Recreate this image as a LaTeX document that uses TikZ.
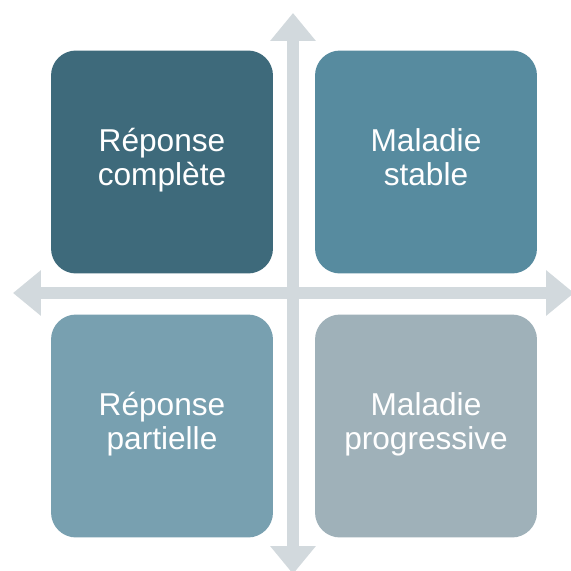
\documentclass[tikz,border=0pt]{standalone}
\usepackage{fontspec}
\setmainfont{Liberation Sans}
\usetikzlibrary{arrows.meta,positioning}
\definecolor{axisgray}{HTML}{D2D9DD}
\definecolor{qa}{HTML}{3E6A7B}
\definecolor{qb}{HTML}{578B9F}
\definecolor{qc}{HTML}{78A0B0}
\definecolor{qd}{HTML}{9FB1B9}

\begin{document}
\begin{tikzpicture}[
  x=0.02cm, y=-0.02cm,
  q/.style={rectangle,rounded corners=0.5cm,minimum width=4.44cm,minimum height=4.46cm,
    inner sep=0pt,text=white,align=center,font=\fontsize{18}{19.6}\selectfont,
    execute at begin node=\strut,execute at end node=\strut},
  axis/.style={{Triangle[width=0.88cm,length=0.56cm]}-{Triangle[width=0.88cm,length=0.56cm]},
    line width=0.24cm,draw=axisgray}
]
\useasboundingbox (0,0) rectangle (571,571);
\coordinate (top) at (293,13);
\coordinate (bot) at (293,574);
\coordinate (lft) at (13,293);
\coordinate (rgt) at (574,293);
\draw[axis] (top) -- (bot);
\draw[axis] (lft) -- (rgt);
\node[q,fill=qa] (rc) at (162,162) {Réponse\\complète};
\node[q,fill=qb] (ms) at (426,162) {Maladie\\stable};
\node[q,fill=qc] (rp) at (162,426) {Réponse\\partielle};
\node[q,fill=qd] (mp) at (426,426) {Maladie\\progressive};
\end{tikzpicture}
\end{document}
